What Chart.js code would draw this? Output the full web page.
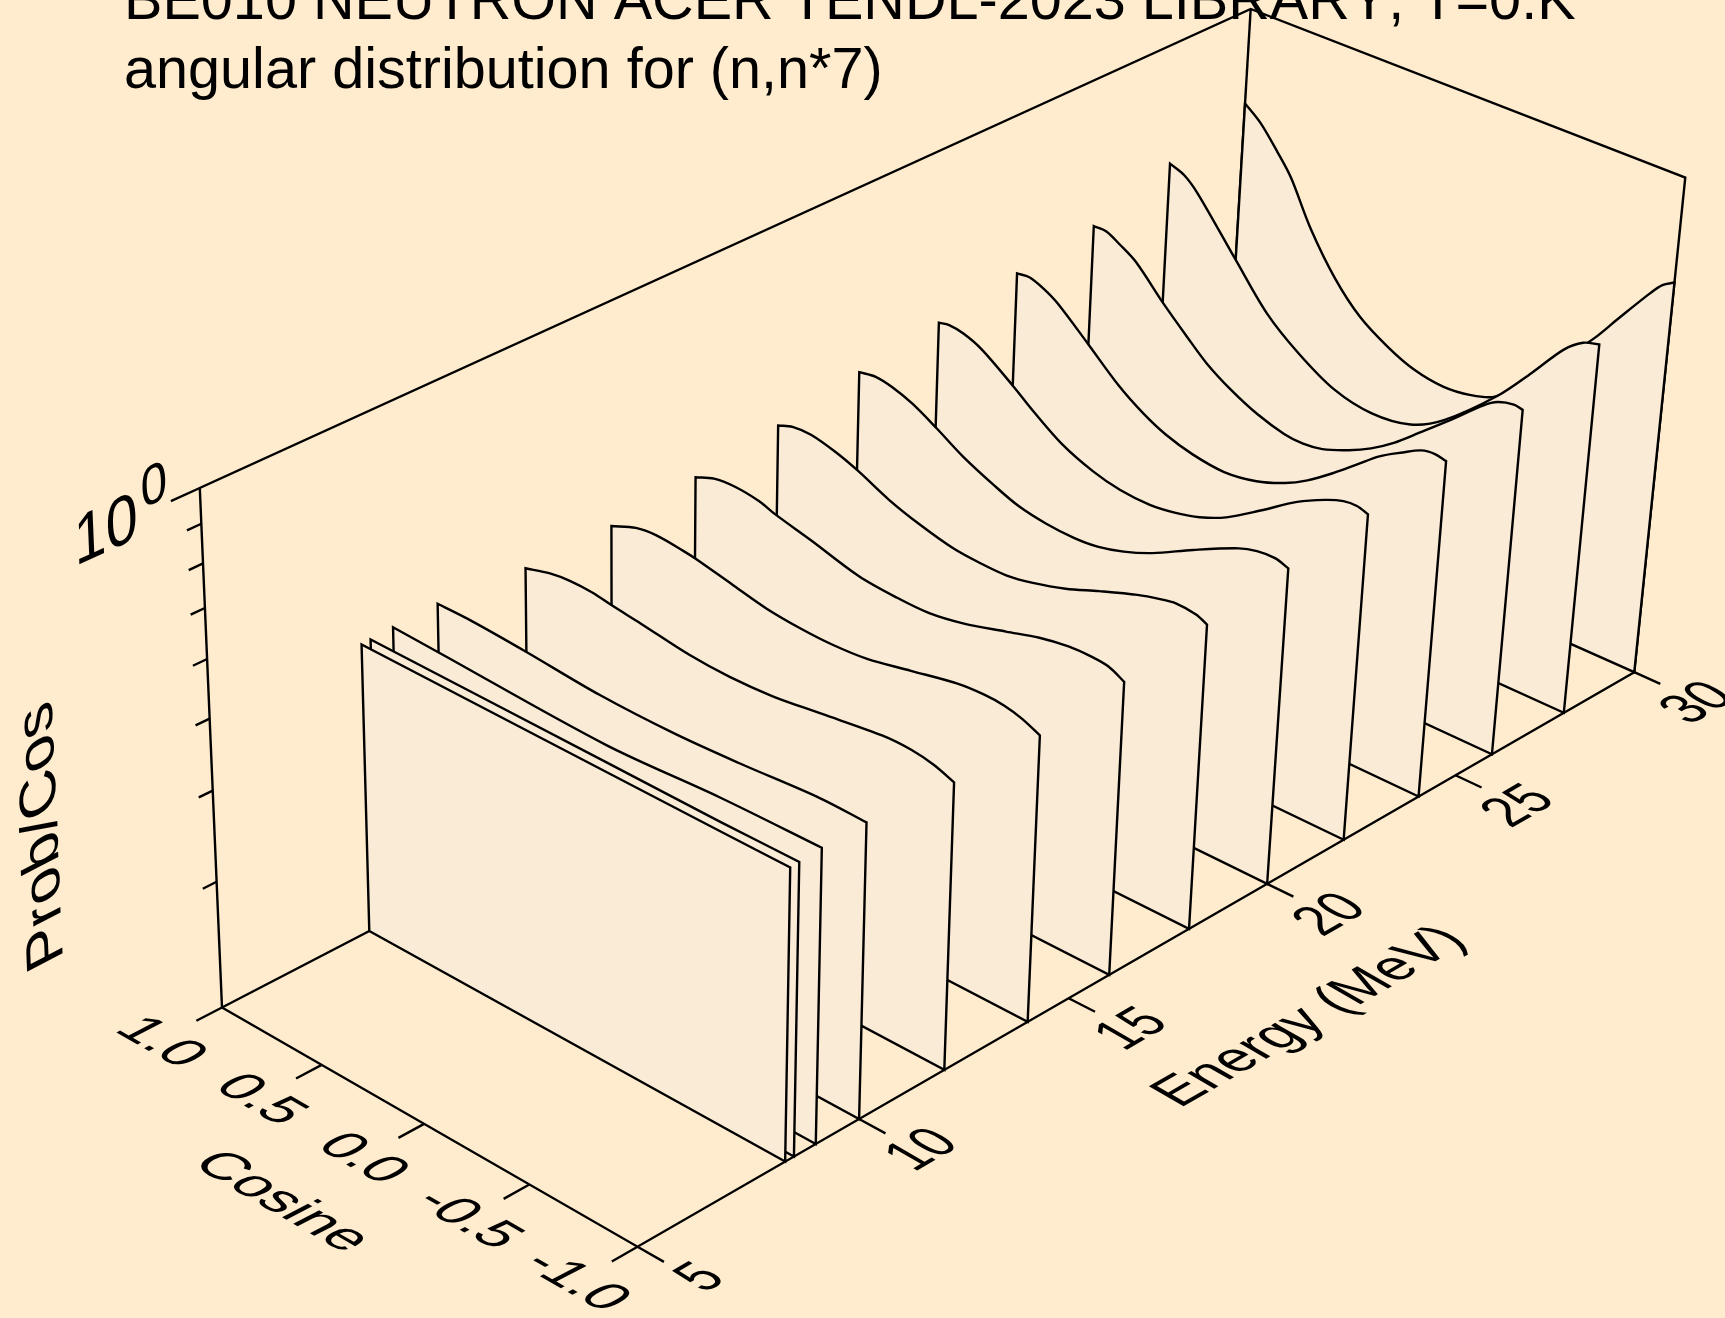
<!DOCTYPE html><html><head><meta charset="utf-8"><style>html,body{margin:0;padding:0;background:#FFEBCD;overflow:hidden}canvas{display:block}</style>
<script src="https://cdn.jsdelivr.net/npm/chart.js@4"></script></head><body><canvas id="c" width="1725" height="1318"></canvas><script>
const titleLines=["BE010 NEUTRON ACER TENDL-2023 LIBRARY, T=0.K","angular distribution for (n,n*7)"];
const cosineTicks=[1,0.5,0,-0.5,-1];
const cosineTickLabels=["1.0","0.5","0.0","-0.5","-1.0"];
const energyTicks=[5,10,15,20,25,30];
const energyTickLabels=["5","10","15","20","25","30"];
const probMinorTicks=[0.3,0.4,0.5,0.6,0.7,0.8,0.9];
const energies=[8.3,8.5,9,10,12,14,16,18,20,22,24,26,28,30];
const cos1=[1,-0.69,-1];
const prob1=[0.501,0.499,0.499];
const cos2=[1,-0.13,-0.65,-1];
const prob2=[0.502,0.5,0.499,0.5];
const cos3=[1,0.77,-0.02,-0.54,-1];
const prob3=[0.504,0.501,0.491,0.5,0.503];
const cos4=[1,0.83,0.57,0.22,-0.13,-0.43,-0.79,-1];
const prob4=[0.507,0.507,0.502,0.493,0.492,0.497,0.506,0.505];
const cos5=[1,0.88,0.78,0.67,0.58,0.44,0.21,0.02,-0.18,-0.4,-0.68,-0.81,-0.91,-1];
const prob5=[0.496,0.507,0.511,0.51,0.505,0.499,0.488,0.485,0.488,0.498,0.511,0.511,0.505,0.494];
const cos6=[1,0.88,0.78,0.65,0.59,0.41,0.25,0.09,-0.06,-0.22,-0.42,-0.63,-0.75,-0.84,-0.92,-1];
const prob6=[0.497,0.513,0.517,0.513,0.51,0.497,0.486,0.481,0.48,0.484,0.498,0.513,0.516,0.514,0.507,0.495];
const cos7=[1,0.91,0.81,0.69,0.61,0.44,0.21,0.03,-0.12,-0.28,-0.47,-0.62,-0.75,-0.85,-0.93,-1];
const prob7=[0.51,0.522,0.525,0.52,0.511,0.497,0.477,0.472,0.472,0.481,0.499,0.514,0.522,0.523,0.52,0.508];
const cos8=[1,0.93,0.84,0.72,0.61,0.46,0.31,0.15,0.03,-0.1,-0.22,-0.37,-0.52,-0.69,-0.79,-0.86,-0.95,-1];
const prob8=[0.53,0.539,0.54,0.53,0.516,0.493,0.477,0.465,0.462,0.462,0.469,0.483,0.503,0.525,0.535,0.54,0.537,0.529];
const cos9=[1,0.92,0.84,0.74,0.62,0.49,0.34,0.22,0.09,-0.04,-0.15,-0.27,-0.4,-0.58,-0.78,-0.86,-0.94,-1];
const prob9=[0.555,0.56,0.555,0.542,0.519,0.493,0.471,0.457,0.45,0.448,0.451,0.461,0.478,0.511,0.547,0.556,0.558,0.551];
const cos10=[1,0.95,0.88,0.79,0.63,0.53,0.39,0.24,0.11,-0.03,-0.15,-0.26,-0.38,-0.53,-0.69,-0.81,-0.89,-0.95,-1];
const prob10=[0.576,0.58,0.576,0.562,0.522,0.496,0.466,0.447,0.438,0.436,0.441,0.45,0.467,0.5,0.54,0.564,0.576,0.578,0.572];
const cos11=[1,0.94,0.87,0.8,0.65,0.49,0.37,0.26,0.13,-0.02,-0.17,-0.3,-0.4,-0.51,-0.61,-0.71,-0.81,-0.89,-0.95,-1];
const prob11=[0.599,0.602,0.592,0.576,0.529,0.482,0.457,0.441,0.43,0.425,0.432,0.447,0.465,0.492,0.521,0.552,0.576,0.594,0.598,0.594];
const cos12=[1,0.94,0.87,0.79,0.65,0.53,0.43,0.31,0.18,0.05,-0.04,-0.13,-0.25,-0.35,-0.45,-0.56,-0.68,-0.83,-0.89,-0.96,-1];
const prob12=[0.621,0.621,0.606,0.586,0.533,0.495,0.467,0.444,0.426,0.415,0.413,0.417,0.431,0.447,0.469,0.501,0.539,0.593,0.61,0.618,0.615];
const cos13=[1,0.93,0.86,0.66,0.5,0.34,0.16,-0.02,-0.2,-0.35,-0.58,-0.72,-0.85,-0.93,-1];
const prob13=[0.678,0.666,0.639,0.543,0.478,0.439,0.41,0.4,0.407,0.432,0.501,0.562,0.629,0.658,0.668];
const cos14=[1,0.92,0.83,0.76,0.65,0.52,0.39,0.25,0.12,-0.02,-0.15,-0.26,-0.4,-0.55,-0.68,-0.77,-0.9,-0.95,-1];
const prob14=[0.737,0.706,0.657,0.617,0.537,0.473,0.432,0.407,0.392,0.386,0.39,0.401,0.44,0.495,0.55,0.599,0.676,0.704,0.72];
const sliceCos=[cos1,cos2,cos3,cos4,cos5,cos6,cos7,cos8,cos9,cos10,cos11,cos12,cos13,cos14];
const sliceProb=[prob1,prob2,prob3,prob4,prob5,prob6,prob7,prob8,prob9,prob10,prob11,prob12,prob13,prob14];
const cosRange=[1,-1],energyRange=[5,30],probRange=[0.2,1];
const lineW=2.4,ink='#000',sheet='#FAEBD7';
const camX=[222,381.8,1165.95,-32.62],camY=[1007.5,173.25,-452.81,-544.94],camD=[1,-0.0529,0.1358,-0.05213];
const lg=Math.log10;
function project(cos,E,p){
  const u=(cosRange[0]-cos)/(cosRange[0]-cosRange[1]),v=(E-energyRange[0])/(energyRange[1]-energyRange[0]),w=(lg(p)-lg(probRange[0]))/(lg(probRange[1])-lg(probRange[0]));
  const d=camD[0]+camD[1]*u+camD[2]*v+camD[3]*w;
  return {x:(camX[0]+camX[1]*u+camX[2]*v+camX[3]*w)/d,y:(camY[0]+camY[1]*u+camY[2]*v+camY[3]*w)/d};
}
const pMin=probRange[0],pMax=probRange[1],eMin=energyRange[0],eMax=energyRange[1];
function seg(...pts){return{data:pts.map(q=>project(...q)),showLine:true,pointRadius:0,borderColor:ink,borderWidth:lineW,fill:false,tension:0,borderCapStyle:'butt',borderJoinStyle:'miter',clip:false};}
const datasets=[];
energies.forEach((E,i)=>{
  const cs=sliceCos[i],ps=sliceProb[i],last=cs.length-1;
  const b0=project(1,E,pMin),b1=project(-1,E,pMin),t0=project(cs[0],E,ps[0]),t1=project(cs[last],E,ps[last]);
  const pts=[b0,t0,t0];
  for(let j=1;j<last;j++)pts.push(project(cs[j],E,ps[j]));
  pts.push(t1,t1,b1,b1,b0);
  datasets.push({data:pts,showLine:true,pointRadius:0,borderColor:ink,borderWidth:lineW,backgroundColor:sheet,fill:'shape',tension:0.32,borderJoinStyle:'miter',clip:false});
});
datasets.push(seg([1,eMin,pMin],[-1,eMin,pMin],[-1,eMax,pMin]));
datasets.push(seg([1,eMin,pMin],[1,eMax,pMin]));
datasets.push(seg([1,eMin,pMin],[1,eMin,pMax],[1,eMax,pMax],[-1,eMax,pMax],[-1,eMax,pMin]));
datasets.push(seg([1,eMax,pMin],[1,eMax,pMax]));
const cosTickLen=0.5625,eTickLen=0.12,majTick=0.6,minTick=0.3;
cosineTicks.forEach(c=>datasets.push(seg([c,eMin,pMin],[c,eMin-cosTickLen,pMin])));
energyTicks.forEach(e=>datasets.push(seg([-1,e,pMin],[-1-eTickLen,e,pMin])));
datasets.push(seg([1,eMin,pMax],[1,eMin-majTick,pMax]));
probMinorTicks.forEach(p=>datasets.push(seg([1,eMin,p],[1,eMin-minTick,p])));
function unit(a,b){const dx=b.x-a.x,dy=b.y-a.y,l=Math.hypot(dx,dy);return{x:dx/l,y:dy/l};}
const dirU=unit(project(1,eMin,pMin),project(-1,eMin,pMin));
const dirVf=unit(project(-1,eMin,pMin),project(-1,eMax,pMin));
const dirVl=unit(project(1,eMin,pMin),project(1,eMax,pMin));
const dirVt=unit(project(1,eMin,pMax),project(1,eMax,pMax));
const dirW=unit(project(1,eMin,pMin),project(1,eMin,pMax));
const neg=d=>({x:-d.x,y:-d.y});
const fontFam='"Liberation Sans",Arial,sans-serif';
function text(ctx,s,cx,cy,xd,up,size,sx,sy){
  ctx.save();ctx.font=size+'px '+fontFam;ctx.fontKerning='none';ctx.fillStyle=ink;ctx.textAlign='center';ctx.textBaseline='alphabetic';
  ctx.transform(xd.x*sx,xd.y*sx,-up.x*sy,-up.y*sy,cx,cy);
  ctx.fillText(s,0,size*0.358);ctx.restore();
}
const labelPlugin={id:'labels',afterDraw(ch){
  const ctx=ch.ctx,sx=ch.scales.x,sy=ch.scales.y;
  const px=q=>({x:sx.getPixelForValue(q.x),y:sy.getPixelForValue(q.y)});
  ctx.save();ctx.fillStyle=ink;ctx.font='57.6px '+fontFam;ctx.fontKerning='none';ctx.textAlign='left';ctx.textBaseline='alphabetic';
  ctx.fillText(titleLines[0],124,18.5);ctx.fillText(titleLines[1],124,88);ctx.restore();
  cosineTicks.forEach((c,i)=>{const q=px(project(c,eMin,pMin));text(ctx,cosineTickLabels[i],q.x-58,q.y+33,dirU,dirVl,46,1.22,1.2);});
  energyTicks.forEach((e,i)=>{const q=px(project(-1,e,pMin));text(ctx,energyTickLabels[i],q.x+60,q.y+29,dirVf,neg(dirU),50,0.98,1.2);});
  const a=px(project(0,eMin,pMin));text(ctx,'Cosine',a.x-139,a.y+76,dirU,dirVl,46,1.25,1.2);
  const b=px(project(-1,20,pMin));text(ctx,'Energy (MeV)',b.x+39,b.y+131,dirVf,neg(dirU),52,1.04,1.12);
  const w=px(project(1,eMin,0.5));text(ctx,'Prob/Cos',w.x-171,w.y+119,dirW,neg(dirVl),58,1.08,1);
  const t=px(project(1,eMin,pMax));
  text(ctx,'10',t.x-94,t.y+39,dirVt,dirW,60,1.05,1.15);
  text(ctx,'0',t.x-46,t.y-5,dirVt,dirW,40,1.3,1.4);
}};
new Chart(document.getElementById('c'),{type:'scatter',data:{datasets},plugins:[labelPlugin],options:{
  responsive:false,animation:false,events:[],layout:{padding:0},
  plugins:{legend:{display:false},tooltip:{enabled:false},title:{display:false}},
  scales:{x:{type:'linear',display:false,min:0,max:1725,offset:false},y:{type:'linear',display:false,min:0,max:1318,reverse:true,offset:false}}
}});
</script></body></html>
